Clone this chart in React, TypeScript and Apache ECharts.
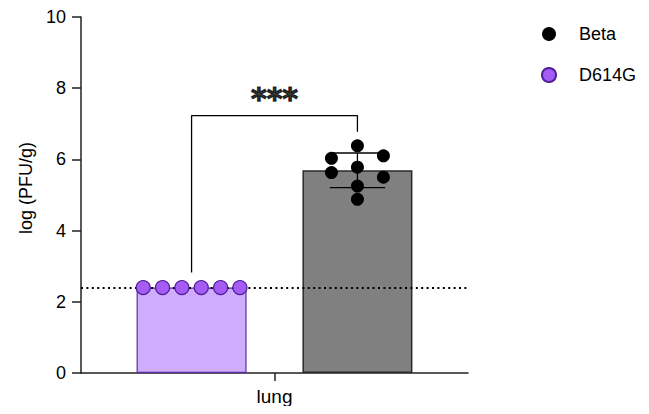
import React, { useEffect, useRef } from "react";
import * as echarts from "echarts";

// ---- data ----
const categories = ["lung"];
const groupNames = ["D614G", "Beta"];
const d614gValues = [2.4, 2.4, 2.4, 2.4, 2.4, 2.4];
const betaValues = [6.38, 6.03, 6.1, 5.78, 5.63, 5.5, 5.25, 4.88];
const detectionLimit = 2.4;
const significanceLabel = "***";
const yTicks = [0, 2, 4, 6, 8, 10];

// ---- layout constants (not data) ----
const GROUP_X = [2, 5];
const D614G_JITTER = [-0.875, -0.525, -0.175, 0.175, 0.525, 0.875];
const BETA_JITTER = [0, -0.47, 0.47, 0, -0.47, 0.47, 0, 0];
const CAT_X = 3.5;
const BRACKET_TOP = 7.23;
const BRACKET_LEFT_BOTTOM = 2.82;
const BRACKET_RIGHT_BOTTOM = 6.78;
const CAP_HALF = 0.5;

const mean = (a: number[]) => a.reduce((s, v) => s + v, 0) / a.length;
const sd = (a: number[]) => {
  const m = mean(a);
  return Math.sqrt(a.reduce((s, v) => s + (v - m) * (v - m), 0) / (a.length - 1));
};

const FONT = "Liberation Sans, Arial, Helvetica, sans-serif";

export default function App() {
  const ref = useRef<HTMLDivElement>(null);
  useEffect(() => {
    if (!ref.current) return;
    const chart = echarts.init(ref.current, undefined, { renderer: "svg" });
    const dMean = mean(d614gValues);
    const bMean = mean(betaValues);
    const bSd = sd(betaValues);
    const bx = GROUP_X[1];

    const lineStyle = { color: "#000", width: 1.3 };
    const plain = (data: number[][], z: number) => ({
      type: "line",
      data,
      symbol: "none",
      lineStyle,
      silent: true,
      z,
      legendHoverLink: false,
    });

    chart.setOption({
      animation: false,
      textStyle: { fontFamily: FONT },
      grid: { left: 81, right: 181, top: 17, bottom: 41 },
      legend: {
        orient: "vertical",
        left: 536,
        top: 20,
        itemWidth: 14,
        itemHeight: 14,
        itemGap: 23,
        data: [
          { name: "Beta", icon: "circle" },
          { name: "D614G", icon: "circle" },
        ],
        textStyle: { fontSize: 18, color: "#000", fontFamily: FONT, padding: [0, 0, 0, 18] },
      },
      xAxis: {
        type: "value",
        min: 0,
        max: 7,
        splitLine: { show: false },
        axisLine: { lineStyle: { color: "#222", width: 1.5 } },
        axisTick: { customValues: [CAT_X], length: 8, lineStyle: { color: "#222", width: 1.5 } },
        axisLabel: {
          customValues: [CAT_X],
          formatter: () => categories[0],
          fontSize: 19,
          color: "#000",
          margin: 14,
          fontFamily: FONT,
        },
      },
      yAxis: {
        type: "value",
        min: yTicks[0],
        max: yTicks[yTicks.length - 1],
        interval: 2,
        name: "log (PFU/g)",
        nameLocation: "middle",
        nameGap: 46,
        nameTextStyle: { fontSize: 18, color: "#000", fontFamily: FONT, padding: [0, 0, 0, 14] },
        splitLine: { show: false },
        axisLine: { show: true, lineStyle: { color: "#222", width: 1.5 } },
        axisTick: { show: true, length: 9, lineStyle: { color: "#222", width: 1.5 } },
        axisLabel: { fontSize: 18, color: "#000", margin: 15, fontFamily: FONT },
      },
      series: [
        {
          type: "bar",
          name: "bars",
          barWidth: 110,
          z: 1,
          silent: true,
          legendHoverLink: false,
          data: [
            {
              value: [GROUP_X[0], dMean],
              itemStyle: { color: "#d0acfd", borderColor: "#5b2aa8", borderWidth: 1.2 },
            },
            {
              value: [GROUP_X[1], bMean],
              itemStyle: { color: "#808080", borderColor: "#2a2a2a", borderWidth: 1.5 },
            },
          ],
          markLine: {
            silent: true,
            symbol: "none",
            label: { show: false },
            lineStyle: { type: [2, 3.4], color: "#000", width: 2.2 },
            data: [{ yAxis: detectionLimit }],
            z: 3,
          },
        },
        // error bar for Beta
        plain([[bx, bMean - bSd], [bx, bMean + bSd]], 4),
        plain([[bx - CAP_HALF, bMean + bSd], [bx + CAP_HALF, bMean + bSd]], 4),
        plain([[bx - CAP_HALF, bMean - bSd], [bx + CAP_HALF, bMean - bSd]], 4),
        // significance bracket
        plain(
          [
            [GROUP_X[0], BRACKET_LEFT_BOTTOM],
            [GROUP_X[0], BRACKET_TOP],
            [GROUP_X[1], BRACKET_TOP],
            [GROUP_X[1], BRACKET_RIGHT_BOTTOM],
          ],
          4
        ),
        {
          type: "scatter",
          name: "sig",
          symbolSize: 0,
          silent: true,
          z: 5,
          data: [[CAT_X, BRACKET_TOP]],
          label: {
            show: true,
            formatter: significanceLabel,
            position: "top",
            distance: 2,
            fontSize: 30,
            fontWeight: "bold",
            color: "#000",
            textBorderColor: "#000",
            textBorderWidth: 1.2,
            fontFamily: "DejaVu Sans, sans-serif",
          },
        },
        {
          type: "scatter",
          name: groupNames[0],
          symbol: "circle",
          symbolSize: 14,
          z: 6,
          itemStyle: { color: "#a45cf5", borderColor: "#4e1d96", borderWidth: 1.2, opacity: 1 },
          data: d614gValues.map((v, i) => [GROUP_X[0] + D614G_JITTER[i], v]),
        },
        {
          type: "scatter",
          name: groupNames[1],
          symbol: "circle",
          symbolSize: 13,
          z: 6,
          itemStyle: { color: "#000", opacity: 1 },
          data: betaValues.map((v, i) => [GROUP_X[1] + BETA_JITTER[i], v]),
        },
      ],
    });
    return () => chart.dispose();
  }, []);
  return <div ref={ref} style={{ width: 649, height: 414, margin: -8 }} />;
}
